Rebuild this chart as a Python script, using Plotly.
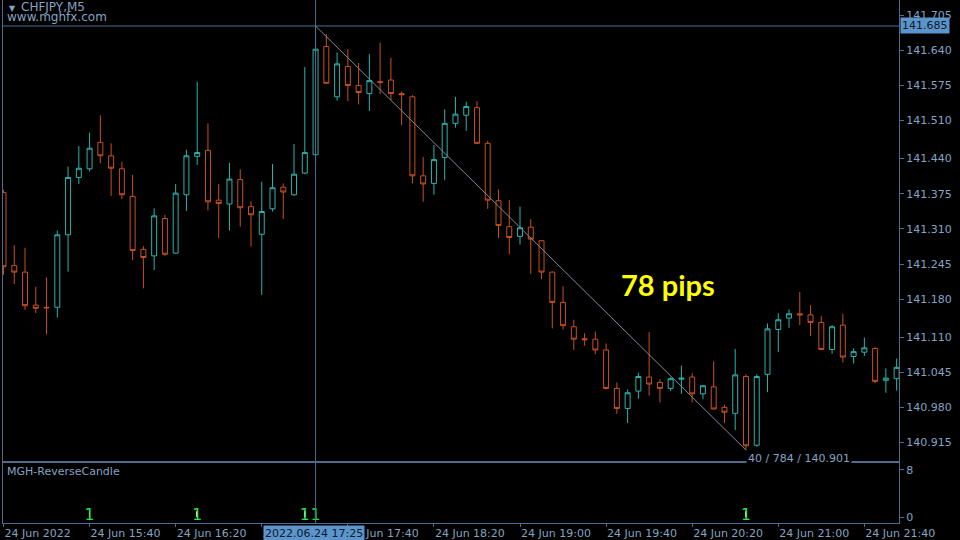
import pandas as pd
import plotly.graph_objects as go

# ---------------- data ----------------
start_time = "2022-06-24 15:00"
n_bars = 84
times = pd.date_range(start_time, periods=n_bars, freq="5min")

opens = [141.377, 141.242, 141.230, 141.169, 141.165, 141.165, 141.299, 141.405, 141.421, 141.470,
         141.445, 141.421, 141.370, 141.272, 141.260, 141.329, 141.265, 141.373, 141.444, 141.455,
         141.363, 141.356, 141.401, 141.351, 141.300, 141.347, 141.387, 141.373, 141.413, 141.447,
         141.647, 141.554, 141.610, 141.575, 141.560, 141.582, 141.585, 141.560, 141.554, 141.408,
         141.394, 141.442, 141.505, 141.520, 141.534, 141.468, 141.362, 141.314, 141.296, 141.313,
         141.288, 141.230, 141.174, 141.129, 141.107, 141.106, 141.086, 141.015, 140.978, 141.010,
         141.036, 141.026, 141.015, 141.032, 141.036, 141.005, 141.018, 140.980, 140.969, 141.037,
         140.910, 141.041, 141.124, 141.145, 141.153, 141.151, 141.137, 141.087, 141.132, 141.074,
         141.082, 141.089, 141.030, 141.033]
highs = [141.382, 141.280, 141.275, 141.203, 141.220, 141.307, 141.425, 141.463, 141.488, 141.520,
         141.468, 141.434, 141.410, 141.278, 141.348, 141.336, 141.393, 141.456, 141.582, 141.505,
         141.393, 141.432, 141.420, 141.361, 141.397, 141.430, 141.394, 141.467, 141.609, 141.685,
         141.670, 141.636, 141.642, 141.617, 141.633, 141.654, 141.626, 141.564, 141.557, 141.443,
         141.465, 141.531, 141.554, 141.545, 141.546, 141.473, 141.383, 141.363, 141.351, 141.328,
         141.289, 141.231, 141.204, 141.142, 141.117, 141.120, 141.098, 141.026, 141.013, 141.044,
         141.119, 141.032, 141.036, 141.057, 141.043, 141.021, 141.065, 140.985, 141.088, 141.041,
         141.041, 141.135, 141.154, 141.161, 141.193, 141.169, 141.149, 141.132, 141.153, 141.089,
         141.109, 141.091, 141.052, 141.070]
lows = [141.225, 141.208, 141.160, 141.154, 141.115, 141.146, 141.231, 141.393, 141.416, 141.431,
        141.371, 141.365, 141.252, 141.200, 141.234, 141.260, 141.264, 141.343, 141.428, 141.344,
        141.293, 141.307, 141.314, 141.277, 141.188, 141.342, 141.328, 141.371, 141.411, 141.430,
        141.578, 141.547, 141.546, 141.540, 141.528, 141.559, 141.548, 141.502, 141.394, 141.360,
        141.373, 141.400, 141.497, 141.491, 141.467, 141.347, 141.293, 141.263, 141.281, 141.227,
        141.217, 141.126, 141.124, 141.086, 141.094, 141.078, 141.013, 140.968, 140.951, 140.996,
        141.002, 140.989, 141.010, 141.005, 140.989, 140.995, 140.976, 140.951, 140.938, 140.901,
        140.907, 141.008, 141.082, 141.127, 141.132, 141.112, 141.086, 141.079, 141.063, 141.061,
        141.075, 141.025, 141.007, 141.011]
closes = [141.240, 141.230, 141.168, 141.163, 141.164, 141.299, 141.405, 141.422, 141.459, 141.445,
          141.422, 141.373, 141.270, 141.257, 141.334, 141.263, 141.376, 141.445, 141.451, 141.360,
          141.357, 141.402, 141.349, 141.336, 141.342, 141.386, 141.378, 141.411, 141.451, 141.642,
          141.579, 141.615, 141.575, 141.562, 141.584, 141.581, 141.560, 141.558, 141.408, 141.393,
          141.438, 141.505, 141.522, 141.536, 141.468, 141.363, 141.316, 141.294, 141.312, 141.291,
          141.230, 141.174, 141.131, 141.106, 141.105, 141.086, 141.015, 140.978, 141.007, 141.037,
          141.023, 141.015, 141.033, 141.034, 141.005, 141.020, 140.977, 140.971, 141.040, 140.909,
          141.037, 141.125, 141.142, 141.153, 141.151, 141.137, 141.087, 141.129, 141.073, 141.083,
          141.090, 141.028, 141.034, 141.054]

# indicator (MGH-ReverseCandle) signal bars (1-based bar numbers)
signal_bars = [9, 19, 29, 30, 70]

price_ticks = [141.705, 141.640, 141.575, 141.510, 141.440, 141.375, 141.310,
               141.245, 141.180, 141.110, 141.045, 140.980, 140.915]
price_tick_text = ["141.705", "141.640", "141.575", "141.510", "141.440", "141.375", "141.310",
                   "141.245", "141.180", "141.110", "141.045", "140.980", "140.915"]
time_ticks = ["2022-06-24 15:00", "2022-06-24 15:40", "2022-06-24 16:20", "2022-06-24 17:00",
              "2022-06-24 17:40", "2022-06-24 18:20", "2022-06-24 19:00", "2022-06-24 19:40",
              "2022-06-24 20:20", "2022-06-24 21:00", "2022-06-24 21:40"]
time_tick_text = ["24 Jun 2022", "24 Jun 15:40", "24 Jun 16:20", "24 Jun 17:00", "24 Jun 17:40",
                  "24 Jun 18:20", "24 Jun 19:00", "24 Jun 19:40", "24 Jun 20:20", "24 Jun 21:00",
                  "24 Jun 21:40"]

start_bar = 30  # crosshair / measure start
end_bar = 70    # measure end

# ---------------- style ----------------
BULL = "#2ab3ad"
BEAR = "#c8501e"
AXIS_TXT = "#86a3c3"
LINE = "#4d6d8e"
HILITE = "#5b95cc"
FONT = "DejaVu Sans"

sig_x = [times[b - 1] for b in signal_bars]
sig_y = [1 for _ in signal_bars]

fig = go.Figure()
fig.add_trace(go.Candlestick(
    x=times, open=opens, high=highs, low=lows, close=closes,
    increasing=dict(line=dict(color=BULL, width=1), fillcolor="#000000"),
    decreasing=dict(line=dict(color=BEAR, width=1), fillcolor="#000000"),
    whiskerwidth=0, xaxis="x", yaxis="y", showlegend=False, hoverinfo="skip",
))
fig.add_trace(go.Bar(
    x=sig_x, y=sig_y, width=[0.3 * 60000] * len(sig_x), marker_color="#cfe4ee",
    marker_line_width=0, xaxis="x2", yaxis="y2", showlegend=False, hoverinfo="skip",
))
fig.add_trace(go.Scatter(
    x=sig_x, y=[0.15] * len(sig_x), mode="text", text=["1"] * len(sig_x),
    textfont=dict(color="#22e84e", size=15, family=FONT),
    xaxis="x2", yaxis="y2", showlegend=False, hoverinfo="skip",
))

t0 = pd.Timestamp(start_time)
x_range = [t0 - pd.Timedelta(seconds=14), t0 + pd.Timedelta(minutes=416.1)]
split = (523 - 462) / 523

fig.update_layout(
    width=960, height=540,
    margin=dict(l=3, r=61, t=0, b=17),
    paper_bgcolor="#000000", plot_bgcolor="#000000",
    font=dict(family=FONT, size=11, color=AXIS_TXT),
    boxgap=0.34,
    xaxis=dict(type="date", range=x_range, domain=[0, 1], anchor="y", matches="x2",
               showticklabels=False, showgrid=False, zeroline=False, rangeslider=dict(visible=False),
               showline=True, linecolor=LINE, linewidth=1, mirror=True, ticks=""),
    yaxis=dict(domain=[split, 1], range=[140.879, 141.733], side="right", anchor="x",
               tickvals=price_ticks, ticktext=price_tick_text, ticks="outside", ticklen=4,
               tickcolor=LINE, showgrid=False, zeroline=False, showline=True, linecolor=LINE,
               mirror=True, tickfont=dict(size=11, color=AXIS_TXT, family=FONT)),
    xaxis2=dict(type="date", range=x_range, domain=[0, 1], anchor="y2",
                tickvals=time_ticks, ticktext=time_tick_text, ticks="outside", ticklen=3,
                tickcolor=LINE, ticklabelposition="outside right", showgrid=False,
                zeroline=False, showline=True, linecolor=LINE, mirror=True,
                tickfont=dict(size=11, color=AXIS_TXT, family=FONT)),
    yaxis2=dict(domain=[0, split], range=[-1.02, 9.36], side="right", anchor="x2",
                tickvals=[0, 8], ticktext=["0", "8"], ticks="outside", ticklen=4, tickcolor=LINE,
                showgrid=False, zeroline=False, showline=True, linecolor=LINE, mirror=True,
                tickfont=dict(size=11, color=AXIS_TXT, family=FONT)),
    showlegend=False,
)

t_start = times[start_bar - 1]
t_end = times[end_bar - 1]
p_start = highs[start_bar - 1]
p_end = lows[end_bar - 1]

shapes = [
    dict(type="line", xref="x", yref="paper", x0=t_start, x1=t_start, y0=0, y1=1,
         line=dict(color=LINE, width=1)),
    dict(type="line", xref="paper", yref="y", x0=0, x1=1, y0=p_start, y1=p_start,
         line=dict(color=LINE, width=1)),
    dict(type="line", xref="x", yref="y", x0=t_start, x1=t_end, y0=p_start, y1=p_end,
         line=dict(color="#7d8c9c", width=1)),
]
fig.update_layout(shapes=shapes)

n_between = end_bar - start_bar
points = round((p_start - p_end) * 1000)
annotations = [
    dict(xref="paper", yref="paper", x=0.004, y=1.0, xanchor="left", yanchor="top",
         text="▼", showarrow=False, font=dict(size=8, color=AXIS_TXT, family=FONT), yshift=-2),
    dict(xref="paper", yref="paper", x=0.018, y=1.0, xanchor="left", yanchor="top",
         text="CHFJPY,M5", showarrow=False, font=dict(size=12, color=AXIS_TXT, family=FONT), yshift=2),
    dict(xref="paper", yref="paper", x=0.002, y=1.0, xanchor="left", yanchor="top",
         text="www.mghfx.com", showarrow=False, font=dict(size=12, color=AXIS_TXT, family=FONT), yshift=-8),
    dict(xref="paper", yref="paper", x=0.002, y=split, xanchor="left", yanchor="top",
         text="MGH-ReverseCandle", showarrow=False, font=dict(size=11, color=AXIS_TXT, family=FONT),
         yshift=-1),
    dict(xref="paper", yref="y", x=0.6875, y=141.207, xanchor="left", yanchor="middle",
         text="<b>78 pips</b>", showarrow=False, font=dict(size=29, color="#ffff00", family="Lato")),
    dict(xref="x", yref="y", x=t_end, y=140.886, xanchor="left", yanchor="middle",
         text=f"{n_between} / {points} / {p_end:.3f}", showarrow=False, bgcolor="#000000",
         font=dict(size=11, color=AXIS_TXT, family=FONT), borderpad=1),
    dict(xref="paper", yref="y", x=1.0, y=p_start, xanchor="left", yanchor="middle",
         text=f"{p_start:.3f}", showarrow=False, bgcolor=HILITE, xshift=1,
         font=dict(size=11, color="#0b1a2a", family=FONT), borderpad=1),
    dict(xref="x", yref="paper", x=t_start, y=0, xanchor="center", yanchor="top",
         text=t_start.strftime("%Y.%m.%d %H:%M"), showarrow=False, bgcolor=HILITE,
         font=dict(size=11, color="#0b1a2a", family=FONT), yshift=-2, borderpad=1, xshift=-2),
]
fig.update_layout(annotations=annotations)

fig.write_html("out.html", config={"displayModeBar": False},
               post_script="document.body.style.margin='0px';document.body.style.overflow='hidden';")
